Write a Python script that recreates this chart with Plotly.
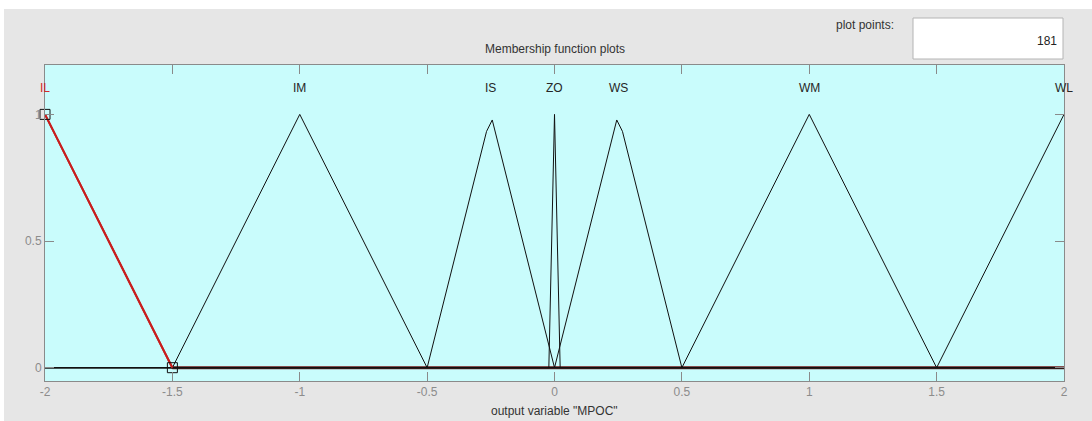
import plotly.graph_objects as go

# Membership functions (vertices as seen in the 181-point plot)
mf_names = ["IL", "IM", "IS", "ZO", "WS", "WM", "WL"]
mf_label_x = [-2, -1, -0.25, 0, 0.25, 1, 2]

il_x = [-2, -1.5, 2]
il_y = [1, 0, 0]
im_x = [-2, -1.5, -1, -0.5, 2]
im_y = [0, 0, 1, 0, 0]
is_x = [-2, -0.5, -0.2667, -0.2444, 0, 2]
is_y = [0, 0, 0.933, 0.978, 0, 0]
zo_x = [-2, -0.0222, 0, 0.0222, 2]
zo_y = [0, 0, 1, 0, 0]
ws_x = [-2, 0, 0.2444, 0.2667, 0.5, 2]
ws_y = [0, 0, 0.978, 0.933, 0, 0]
wm_x = [-2, 0.5, 1, 1.5, 2]
wm_y = [0, 0, 1, 0, 0]
wl_x = [-2, 1.5, 2]
wl_y = [0, 0, 1]

# selected MF parameter points
sel_x = [-2, -1.5]
sel_y = [1, 0]

x_ticks = [-2, -1.5, -1, -0.5, 0, 0.5, 1, 1.5, 2]
x_ticktext = ["-2", "-1.5", "-1", "-0.5", "0", "0.5", "1", "1.5", "2"]
y_ticks = [0, 0.5, 1]
y_ticktext = ["0", "0.5", "1"]
plot_points = "181"

FONT = "Liberation Sans, Arial, sans-serif"
PANEL = "#e6e6e6"

fig = go.Figure()

# selected MF (red) underneath
fig.add_trace(go.Scatter(x=il_x, y=il_y, mode="lines",
                         line=dict(color="#c81e1e", width=2), hoverinfo="skip"))
# brown look of the baseline of the selected MF
fig.add_trace(go.Scatter(x=il_x[1:], y=il_y[1:], mode="lines",
                         line=dict(color="#6e2a2a", width=3), hoverinfo="skip"))

for xs, ys in [(im_x, im_y), (is_x, is_y), (zo_x, zo_y), (ws_x, ws_y),
               (wm_x, wm_y), (wl_x, wl_y)]:
    fig.add_trace(go.Scatter(x=xs, y=ys, mode="lines",
                             line=dict(color="#111111", width=1), hoverinfo="skip"))

# re-draw red descending segment on top
fig.add_trace(go.Scatter(x=il_x[:2], y=il_y[:2], mode="lines",
                         line=dict(color="#c81e1e", width=2), hoverinfo="skip"))

fig.add_trace(go.Scatter(x=sel_x, y=sel_y, mode="markers",
                         marker=dict(symbol="square-open", size=10,
                                     color="#111111", line=dict(width=1)),
                         cliponaxis=False, hoverinfo="skip"))

annotations = []
for name, lx in zip(mf_names, mf_label_x):
    annotations.append(dict(x=lx, y=1.104, xref="x", yref="y", text=name,
                            showarrow=False,
                            font=dict(family=FONT, size=12,
                                      color="#d42a2a" if name == "IL" else "#262626")))

annotations += [
    dict(x=0.5, y=1, xref="paper", yref="paper", yshift=16, text="Membership function plots",
         showarrow=False, font=dict(family=FONT, size=12, color="#333333"), yanchor="middle"),
    dict(x=0.5, y=0, xref="paper", yref="paper", yshift=-30, text='output variable "MPOC"',
         showarrow=False, font=dict(family=FONT, size=12, color="#333333"), yanchor="middle"),
]

fig.update_layout(
    width=1092, height=421,
    margin=dict(l=45, r=28, t=65, b=40),
    paper_bgcolor=PANEL,
    plot_bgcolor="#c9fcfc",
    showlegend=False,
    annotations=annotations,
)

# pixel helpers for paper coordinates
W, H = 1092, 421
pl, pr, pt, pb = 45, 1064, 65, 381
pw, ph = pr - pl, pb - pt

def px(xp):
    return (xp - pl) / pw

def py(yp):
    return (pb - yp) / ph

# white page strips around the panel
fig.add_shape(type="rect", xref="paper", yref="paper",
              x0=px(-2), x1=px(W + 2), y0=py(9), y1=py(-2),
              fillcolor="white", line=dict(width=0), layer="below")
fig.add_shape(type="rect", xref="paper", yref="paper",
              x0=px(-2), x1=px(4), y0=py(H + 2), y1=py(-2),
              fillcolor="white", line=dict(width=0), layer="below")
# text box
fig.add_shape(type="rect", xref="paper", yref="paper",
              x0=px(913), x1=px(1063), y0=py(59), y1=py(18),
              fillcolor="white", line=dict(color="#b4b4b4", width=1), layer="below")
fig.add_annotation(x=px(1059), y=py(41), xref="paper", yref="paper", text=plot_points,
                   showarrow=False, xanchor="right", yanchor="middle",
                   font=dict(family=FONT, size=12, color="#222222"))
fig.add_annotation(x=px(896), y=py(25), xref="paper", yref="paper", text="plot points:",
                   showarrow=False, xanchor="right", yanchor="middle",
                   font=dict(family=FONT, size=12, color="#333333"))

axis_common = dict(showgrid=False, zeroline=False, showline=True, linecolor="#8a8a8a",
                   linewidth=1, mirror="ticks", ticks="inside", ticklen=9,
                   tickcolor="#8a8a8a", tickwidth=1,
                   tickfont=dict(family=FONT, size=12, color="#8c8c8c"))
fig.update_xaxes(range=[-2, 2], tickvals=x_ticks, ticktext=x_ticktext, **axis_common)
fig.update_yaxes(range=[-0.0525, 1.195], tickvals=y_ticks, ticktext=y_ticktext, **axis_common)

fig.write_html("out.html", config={"displayModeBar": False},
               post_script="document.body.style.margin='0';document.body.style.overflow='hidden';")
